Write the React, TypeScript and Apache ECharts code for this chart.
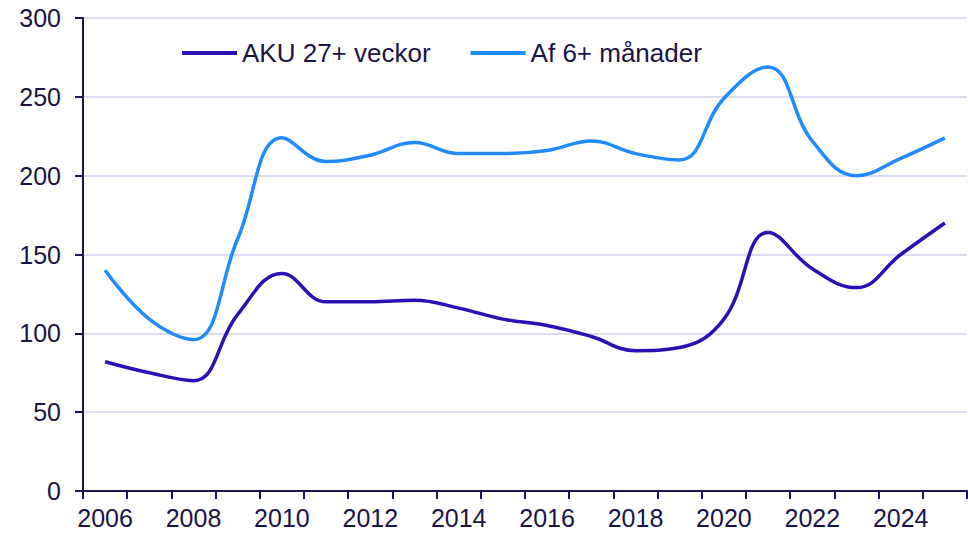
import React, { useEffect, useRef } from "react";
import * as echarts from "echarts";

const years = ["2006","2007","2008","2009","2010","2011","2012","2013","2014","2015","2016","2017","2018","2019","2020","2021","2022","2023","2024","2025"];
const akuValues = [82, 75, 70, 112, 138, 120, 120, 121, 116, 109, 105, 98, 89, 91, 109, 164, 141, 129, 150, 170];
const afValues = [140, 109, 96, 160, 224, 209, 213, 221, 214, 214, 216, 222, 214, 210, 249, 269, 222, 200, 211, 224];
const seriesNames = ["AKU 27+ veckor", "Af 6+ månader"];

const TEXT = "#1a1446";
const AXIS = "#1c1650";
const FONT = "Liberation Sans, Arial, sans-serif";

export default function App() {
  const ref = useRef<HTMLDivElement>(null);
  useEffect(() => {
    if (!ref.current) return;
    const chart = echarts.init(ref.current, undefined, { renderer: "svg" });
    chart.setOption({
      animation: false,
      backgroundColor: "#ffffff",
      textStyle: { fontFamily: FONT },
      grid: { left: 83, right: 1, top: 18, bottom: 44, containLabel: false },
      legend: {
        left: 182,
        top: 40,
        padding: 0,
        itemWidth: 55,
        itemHeight: 4,
        itemGap: 40,
        icon: "rect",
        textStyle: { fontSize: 26, color: TEXT, fontFamily: FONT },
        data: seriesNames,
      },
      xAxis: {
        type: "category",
        data: years,
        boundaryGap: true,
        axisLine: { show: true, lineStyle: { color: AXIS, width: 2 } },
        axisTick: { show: true, interval: 0, length: 8, lineStyle: { color: AXIS, width: 2 } },
        axisLabel: { interval: 1, fontSize: 25, color: TEXT, margin: 14, fontFamily: FONT },
        splitLine: { show: false },
      },
      yAxis: {
        type: "value",
        min: 0,
        max: 300,
        interval: 50,
        axisLine: { show: true, lineStyle: { color: AXIS, width: 2 } },
        axisTick: { show: true, length: 8, lineStyle: { color: AXIS, width: 2 } },
        axisLabel: { fontSize: 25, color: TEXT, margin: 22, fontFamily: FONT },
        splitLine: { show: true, lineStyle: { color: "#d0d0ec", width: 1.5 } },
      },
      series: [
        {
          name: seriesNames[0],
          type: "line",
          data: akuValues,
          smooth: 0.42,
          showSymbol: false,
          symbol: "none",
          lineStyle: { color: "#2c10b5", width: 3.5 },
          itemStyle: { color: "#2c10b5" },
          z: 3,
        },
        {
          name: seriesNames[1],
          type: "line",
          data: afValues,
          smooth: 0.42,
          showSymbol: false,
          symbol: "none",
          lineStyle: { color: "#1f8bff", width: 3.5 },
          itemStyle: { color: "#1f8bff" },
          z: 2,
        },
      ],
    });
    return () => chart.dispose();
  }, []);
  return (
    <div
      ref={ref}
      style={{ position: "fixed", left: 0, top: 0, width: 968, height: 535, background: "#fff" }}
    />
  );
}
